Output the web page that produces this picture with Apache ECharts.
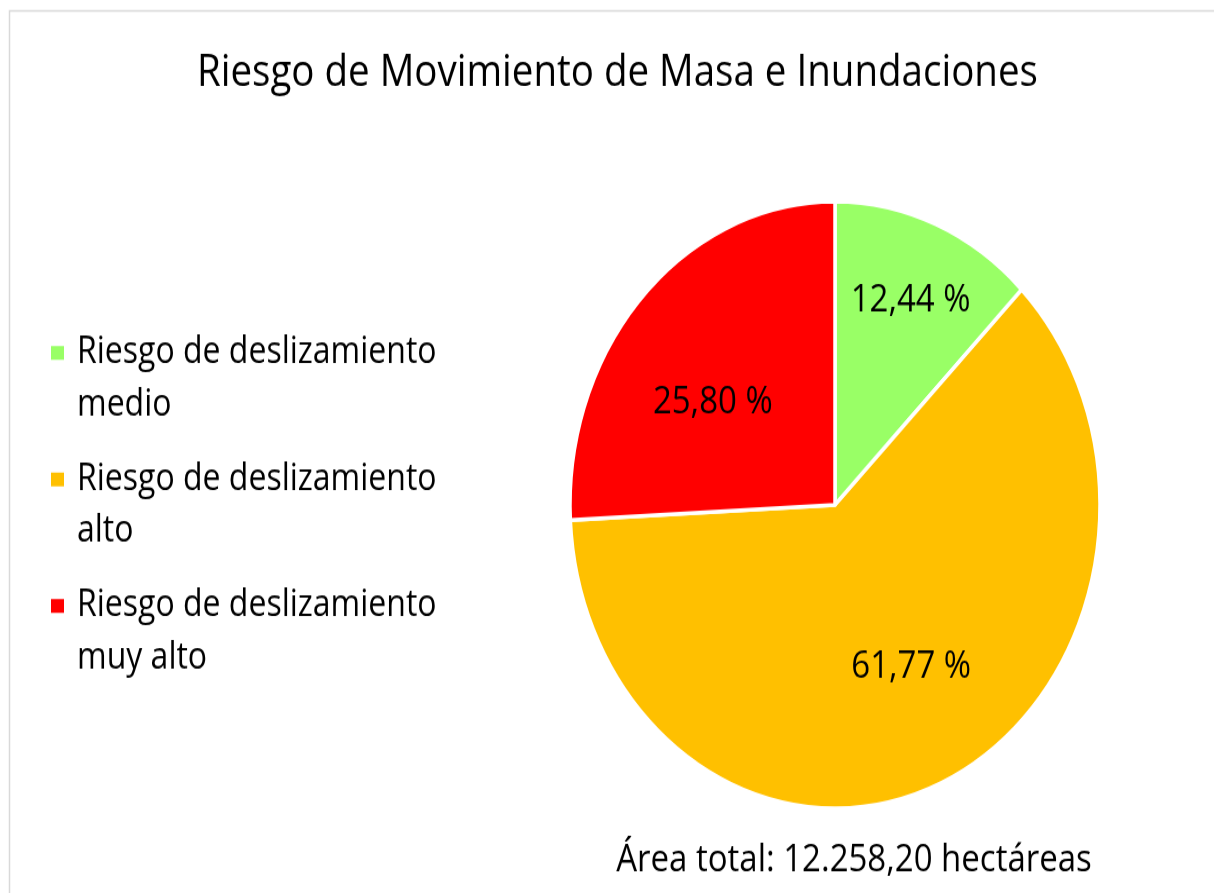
<!DOCTYPE html>
<html>
<head>
<meta charset="utf-8">
<script src="https://cdn.jsdelivr.net/npm/echarts@6/dist/echarts.min.js"></script>
<style>
  html, body { margin: 0; padding: 0; background: #fff; }
  #wrap { width: 1214px; height: 893px; overflow: hidden; }
  /* the reference is stretched vertically, so the chart is drawn flat and scaled */
  #main { width: 1214px; height: 780px; transform: scaleY(1.1449); transform-origin: 0 0; }
</style>
</head>
<body>
<div id="wrap"><div id="main"></div></div>
<script>
// data
const categories = ['Riesgo de deslizamiento medio', 'Riesgo de deslizamiento alto', 'Riesgo de deslizamiento muy alto'];
const shares = [12.44, 61.77, 25.80];
const sliceColors = ['#99FF66', '#FFC000', '#FF0000'];
const chartTitle = 'Riesgo de Movimiento de Masa e Inundaciones';
const footNote = 'Área total: 12.258,20 hectáreas';

const FONT = '"Open Sans"';
const LH = 45.5; // legend line height

var chart = echarts.init(document.getElementById('main'), null, { renderer: 'canvas' });

// label nudges (Excel places them by best fit)
var labelOffsets = [[24, -53], [21, 18], [-24, 4]];

var pieData = categories.map(function (name, i) {
  return {
    name: name,
    value: shares[i],
    itemStyle: { color: sliceColors[i] },
    label: { offset: labelOffsets[i] }
  };
});

var option = {
  animation: false,
  backgroundColor: '#fff',
  title: {
    text: chartTitle,
    left: 197,
    top: 45,
    padding: 0,
    textStyle: { fontFamily: FONT, fontWeight: 'normal', fontSize: 38.5, color: '#000' }
  },
  legend: {
    orient: 'vertical',
    left: 49,
    top: 240,
    padding: 0,
    itemGap: -26,
    itemWidth: 15,
    itemHeight: 14,
    icon: 'rect',
    data: categories,
    // blank first line so the marker sits beside the first text line
    formatter: function (name) {
      return '\n' + name.replace('deslizamiento ', 'deslizamiento\n');
    },
    textStyle: {
      fontFamily: FONT, fontSize: 32, color: '#000',
      lineHeight: LH, padding: [0, 0, 0, 7]
    }
  },
  graphic: [
    {
      type: 'rect', silent: true, z: -1,
      shape: { x: 9.5, y: 9.6, width: 1400, height: 1000 },
      style: { fill: null, stroke: '#d9d9d9', lineWidth: 1.5 }
    },
    {
      type: 'text', silent: true,
      x: 854, y: 752,
      style: {
        text: footNote, fontFamily: FONT, fontSize: 33, fill: '#000',
        textAlign: 'center', textVerticalAlign: 'middle'
      }
    }
  ],
  series: [{
    type: 'pie',
    center: [835, 441],
    radius: 265,
    startAngle: 90,
    clockwise: true,
    data: pieData,
    itemStyle: { borderColor: '#fff', borderWidth: 3.5 },
    label: {
      show: true,
      position: 'inside',
      fontFamily: FONT,
      fontSize: 33,
      color: '#000',
      formatter: function (p) {
        return p.value.toFixed(2).replace('.', ',') + ' %';
      }
    },
    labelLine: { show: false },
    emphasis: { disabled: true }
  }]
};

chart.setOption(option);
</script>
</body>
</html>
